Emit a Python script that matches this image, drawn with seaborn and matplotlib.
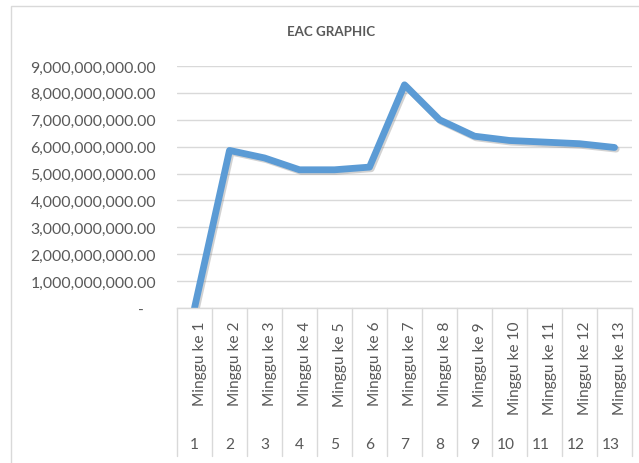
import matplotlib
matplotlib.use("Agg")
import matplotlib.pyplot as plt
import matplotlib.patheffects as pe
from matplotlib.patches import Rectangle
from matplotlib.ticker import FuncFormatter, MultipleLocator
import seaborn as sns
import pandas as pd

weeks = list(range(1, 14))
week_labels = [f"Minggu ke {i}" for i in weeks]
eac = [0, 5.86e9, 5.58e9, 5.14e9, 5.14e9, 5.24e9, 8.30e9, 7.00e9,
       6.39e9, 6.23e9, 6.17e9, 6.11e9, 5.97e9]
title = "EAC GRAPHIC"

sns.set_theme(style="white")
plt.rcParams['font.family'] = ['Lato', 'DejaVu Sans']

TXT = "#595959"
GRID = "#D9D9D9"

df = pd.DataFrame({"week": weeks, "eac": eac})

fig = plt.figure(figsize=(6.39, 4.64), dpi=100)
ax = fig.add_axes([177/639, 1-309/464, (632-177)/639, (309-67)/464])

# outer chart frame
fig.patches.append(Rectangle((11/639, -0.1), 1.2, 0.985 + 0.1, transform=fig.transFigure,
                             fill=False, edgecolor=GRID, linewidth=1.0))

sns.lineplot(data=df, x="week", y="eac", ax=ax, color="#5B9BD5", linewidth=4.9,
             solid_joinstyle="round", solid_capstyle="round",
             path_effects=[pe.SimpleLineShadow(offset=(1.2, -1.2), shadow_color="gray", alpha=0.35),
                           pe.Normal()])

ax.set_xlim(0.5, 13.5)
ax.set_ylim(0, 9e9)
ax.yaxis.set_major_locator(MultipleLocator(1e9))
ax.yaxis.set_major_formatter(FuncFormatter(lambda v, p: "-   " if abs(v) < 1 else f"{v:,.2f}"))
ax.grid(axis="y", color=GRID, linewidth=1.0)
ax.set_axisbelow(True)
ax.set_xticks([])
ax.set_xlabel("")
ax.set_ylabel("")
for s in ["left", "right", "top"]:
    ax.spines[s].set_visible(False)
ax.spines["bottom"].set_color(GRID)
ax.spines["bottom"].set_linewidth(1.0)
ax.tick_params(axis="y", length=0, pad=15, labelsize=11.4, labelcolor=TXT)

# multi-level category axis
xt = ax.get_xaxis_transform()
bot = -(457-309)/242
for k in range(14):
    ax.plot([0.5 + k, 0.5 + k], [0, bot], transform=xt, color=GRID, linewidth=1.0, clip_on=False)
for w, lab in zip(weeks, week_labels):
    ax.text(w + 0.15, -(322-309)/242, lab, transform=xt, rotation=90, ha="center", va="top",
            fontsize=11.2, color=TXT)
    ax.text(w - (0.12 if w >= 10 else 0), -(445-309)/242, str(w), transform=xt, ha="center",
            va="center", fontsize=11.2, color=TXT)

fig.text(331/639, 1-32/464, title, ha="center", va="center", fontsize=9.6,
         fontweight="bold", color=TXT)

fig.savefig("out.png", dpi=100)
